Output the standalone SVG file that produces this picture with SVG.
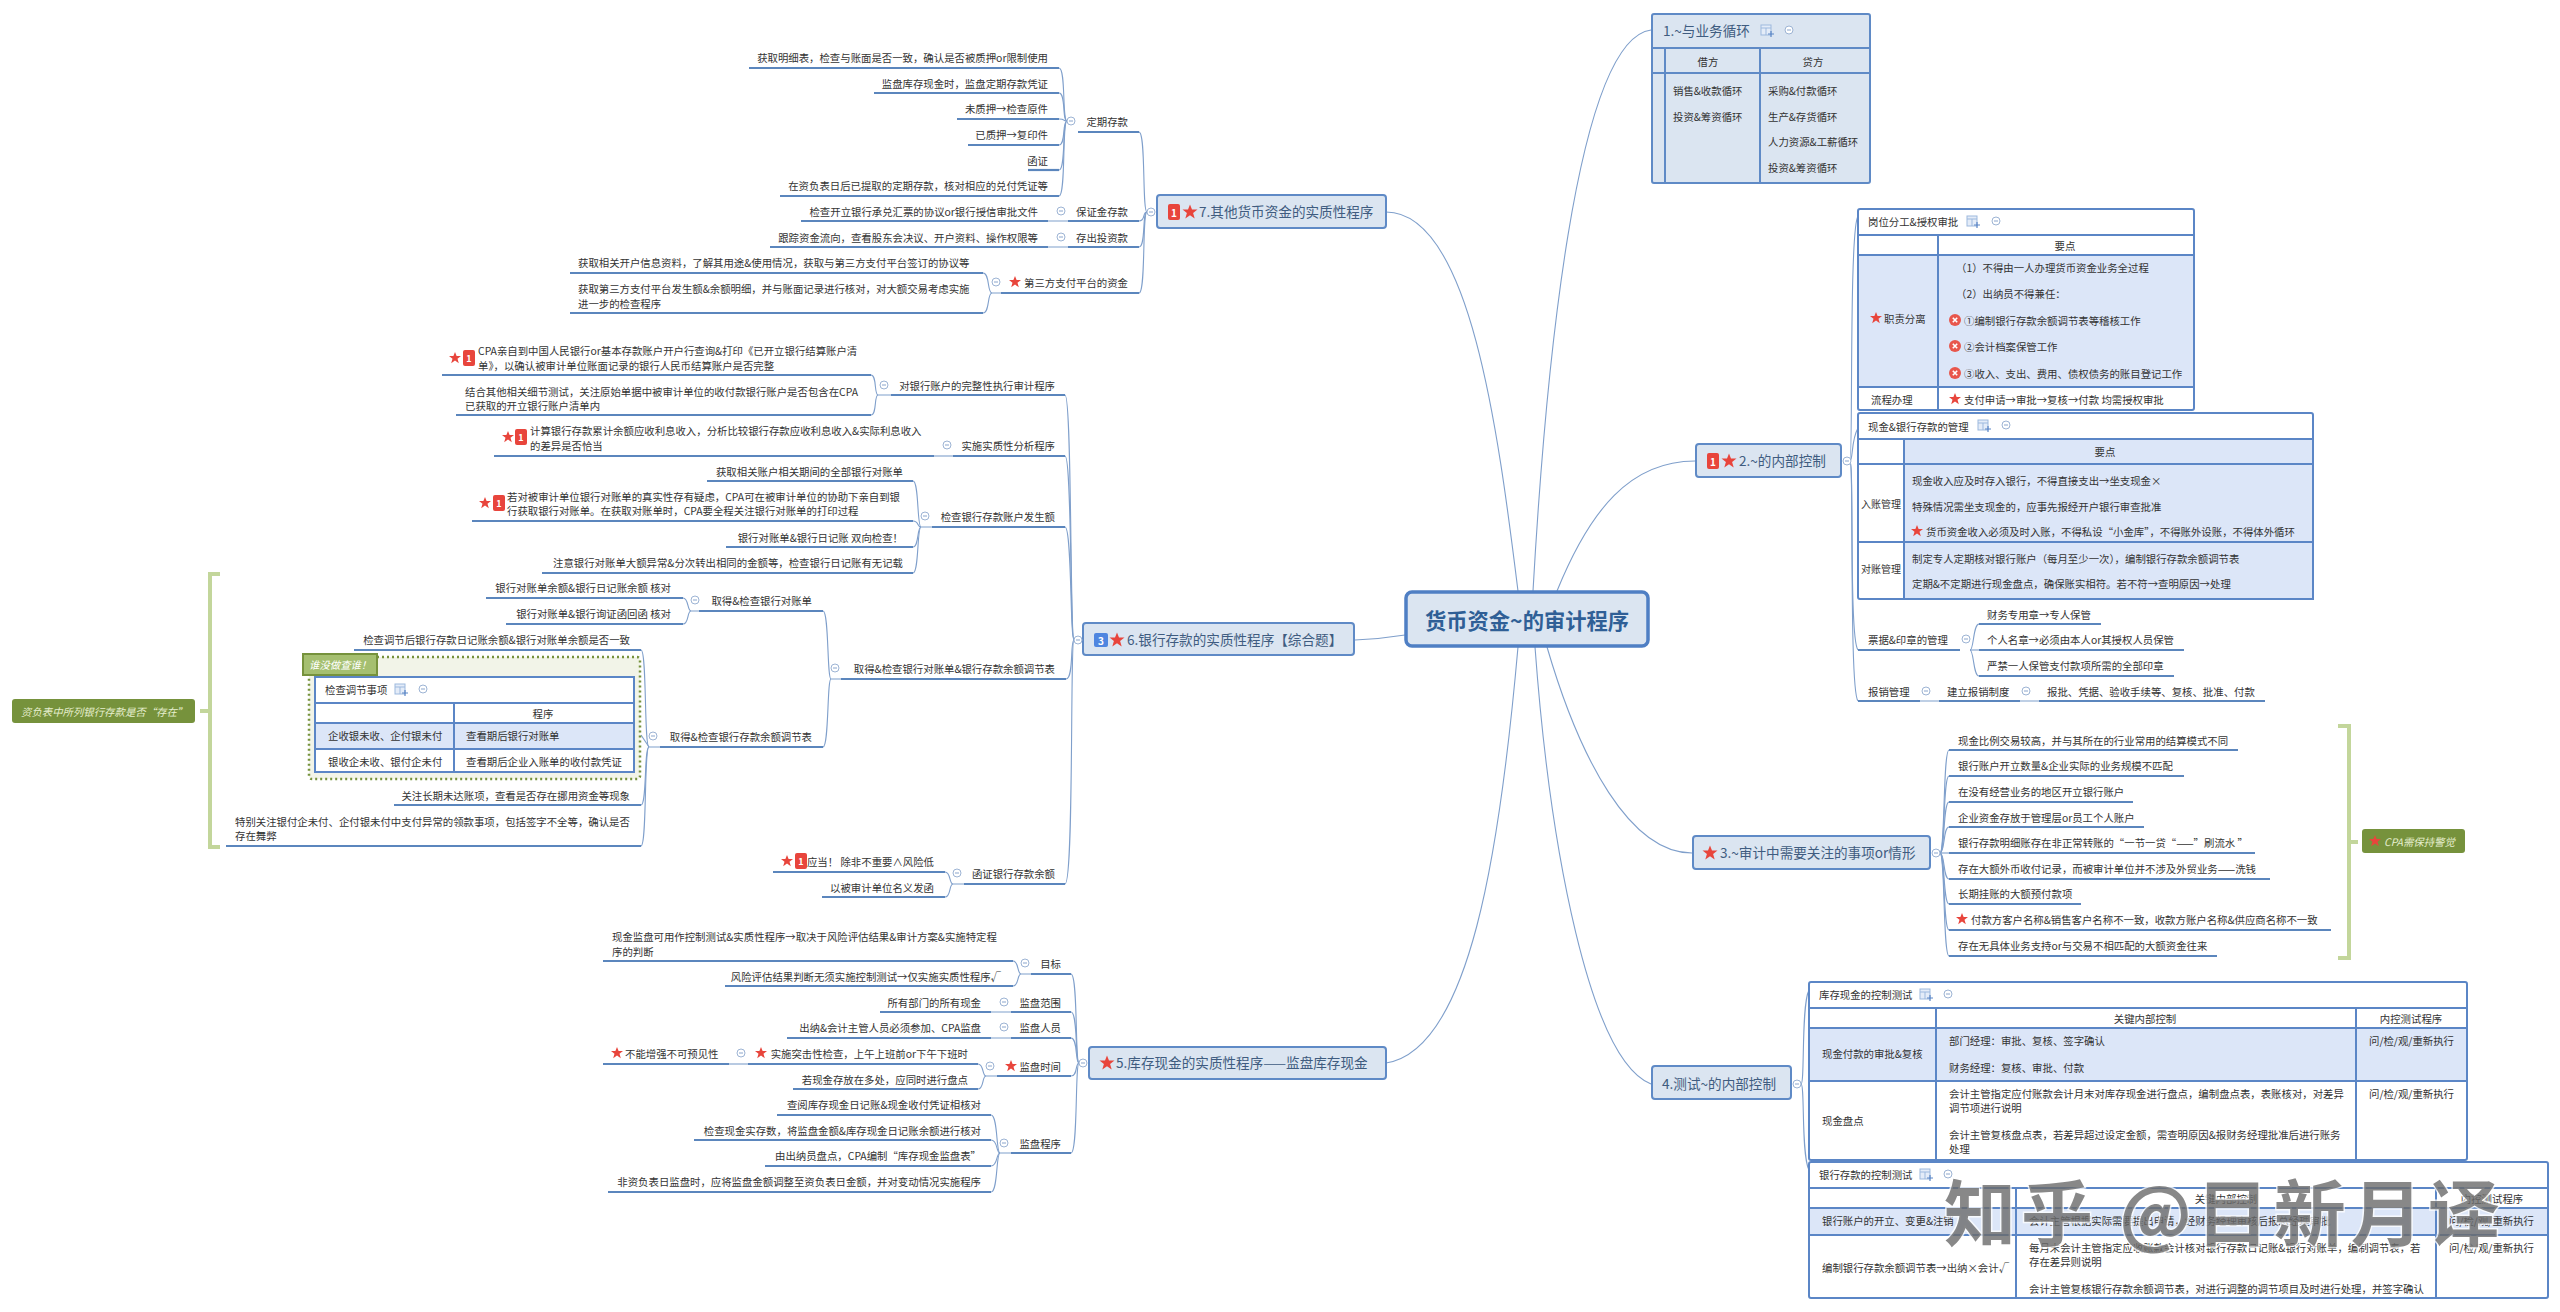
<svg xmlns="http://www.w3.org/2000/svg" xmlns:xlink="http://www.w3.org/1999/xlink" width="2560" height="1312" viewBox="0 0 2560 1312">
<style>
text{font-family:"Noto Sans CJK SC","Liberation Sans",sans-serif;dominant-baseline:central}
.l{font-size:10.4px;fill:#333}
.e{text-anchor:end}
.m{text-anchor:middle}
.t{font-size:13.6px;fill:#3f5c80}
.u{stroke:#5b86bd;stroke-width:2.2;fill:none}
.c{fill:none;stroke:#7f9fcb;stroke-width:1.1}
.n{fill:#dbe5f1;stroke:#5f8ac6;stroke-width:2}
.b{fill:#fff;stroke:#5b86c6;stroke-width:2}
.f{fill:#dce6f8;stroke:#5b86c6;stroke-width:2}
.g{fill:none;stroke:#c3d69b;stroke-width:4}
.i{font-style:italic;font-size:10.4px;fill:#e6efcf}
</style>
<defs>
<polygon id="s" points="0,-6 1.6,-1.9 6,-1.9 2.5,0.8 3.8,5.2 0,2.6 -3.8,5.2 -2.5,0.8 -6,-1.9 -1.6,-1.9" fill="#e8453c"/>
<polygon id="S" points="0,-7.5 2,-2.4 7.5,-2.4 3.1,1 4.7,6.5 0,3.3 -4.7,6.5 -3.1,1 -7.5,-2.4 -2,-2.4" fill="#e8453c"/>
<g id="o"><circle r="4" fill="#fff" stroke="#9db4d4" stroke-width="1"/><path d="M-2 0H2" stroke="#8aa5cc" stroke-width="1"/></g>
<g id="k"><rect width="10" height="10" fill="#e4ecf8" stroke="#9db9de" stroke-width="1"/><path d="M0 3H10M5 3V10" stroke="#9db9de" stroke-width="1"/><path d="M7 9H13M10 6V12" stroke="#5b86c6" stroke-width="1.2"/></g>
<g id="x"><circle r="6" fill="#e8564c"/><path d="M-2.2 -2.2L2.2 2.2M2.2 -2.2L-2.2 2.2" stroke="#fff" stroke-width="1.6"/></g>
<rect id="d" x="-6" y="-8" width="12" height="16" rx="2" fill="#e8453c"/>
</defs>
<rect width="2560" height="1312" fill="#fff"/>

<g id="connectors">
<path class="c" d="M1533 591C1545 380 1575 40 1651 30"/>
<path class="c" d="M1518 591C1498 430 1470 212 1386 212"/>
<path class="c" d="M1557 591C1590 510 1630 461 1695 461"/>
<path class="c" d="M1405 635Q1380 639 1355 640"/>
<path class="c" d="M1547 647C1580 760 1630 853 1692 853"/>
<path class="c" d="M1535 647C1550 850 1590 1060 1651 1084"/>
<path class="c" d="M1518 647C1500 850 1470 1050 1386 1063"/>
<path class="c" d="M1850 461C1853 461 1849 230 1858 216"/>
<path class="c" d="M1850 461C1853 461 1851 440 1858 428"/>
<path class="c" d="M1850 461C1854 461 1849 640 1858 650"/>
<path class="c" d="M1850 461C1854 461 1849 690 1858 701"/>
<path class="c" d="M1920 701H1939M2020 701H2039"/>
<path class="c" d="M1970 650C1974 650 1973 624 1979 624"/>
<path class="c" d="M1970 650H1979"/>
<path class="c" d="M1970 650C1974 650 1973 676 1979 676"/>
<path class="c" d="M1940 853C1945 853 1943 750 1949 750"/>
<path class="c" d="M1940 853C1945 853 1943 776 1949 776"/>
<path class="c" d="M1940 853C1945 853 1943 802 1949 802"/>
<path class="c" d="M1940 853C1945 853 1943 827 1949 827"/>
<path class="c" d="M1940 853H1949"/>
<path class="c" d="M1940 853C1945 853 1943 879 1949 879"/>
<path class="c" d="M1940 853C1945 853 1943 904 1949 904"/>
<path class="c" d="M1940 853C1945 853 1943 930 1949 930"/>
<path class="c" d="M1940 853C1945 853 1943 956 1949 956"/>
<path class="c" d="M1801 1084C1805 1084 1801 1005 1809 990"/>
<path class="c" d="M1801 1084C1805 1084 1801 1155 1809 1170"/>
<path class="c" d="M1147 212C1142 212 1146 132 1139 132"/>
<path class="c" d="M1147 212C1142 212 1146 221 1139 221"/>
<path class="c" d="M1147 212C1142 212 1146 247 1139 247"/>
<path class="c" d="M1147 212C1142 212 1146 293 1139 293"/>
<path class="c" d="M1067 121C1062 121 1066 68 1059 68"/>
<path class="c" d="M1067 121C1062 121 1066 93 1059 93"/>
<path class="c" d="M1067 121C1062 121 1066 119 1059 119"/>
<path class="c" d="M1067 121C1062 121 1066 145 1059 145"/>
<path class="c" d="M1067 121C1062 121 1066 170 1059 170"/>
<path class="c" d="M1067 121C1062 121 1066 196 1059 196"/>
<path class="c" d="M1048 221H1068M1048 247H1068"/>
<path class="c" d="M1001 293H992C987 293 990 273 983 273"/>
<path class="c" d="M992 293C987 293 990 313 983 313"/>
<path class="c" d="M1074 640C1070 640 1072 395 1065 395"/>
<path class="c" d="M1074 640C1070 640 1072 456 1065 456"/>
<path class="c" d="M1074 640C1070 640 1072 527 1065 527"/>
<path class="c" d="M1074 640C1070 640 1074 679 1066 679"/>
<path class="c" d="M1074 640C1070 640 1074 884 1065 884"/>
<path class="c" d="M891 395H878C874 395 877 375 871 375"/>
<path class="c" d="M878 395C874 395 877 415 871 415"/>
<path class="c" d="M934 456H953"/>
<path class="c" d="M932 527H921C917 527 919 481 913 481"/>
<path class="c" d="M921 527C917 527 919 521 913 521"/>
<path class="c" d="M921 527C917 527 919 547 913 547"/>
<path class="c" d="M921 527C917 527 919 573 913 573"/>
<path class="c" d="M841 679H831C827 679 829 611 823 611"/>
<path class="c" d="M831 679C827 679 829 747 823 747"/>
<path class="c" d="M699 611H691C687 611 689 598 683 598"/>
<path class="c" d="M691 611C687 611 689 624 683 624"/>
<path class="c" d="M660 747H649C644 747 647 650 641 650"/>
<path class="c" d="M649 747L641 735"/>
<path class="c" d="M649 747C644 747 647 805 641 805"/>
<path class="c" d="M649 747C644 747 647 846 641 846"/>
<path class="c" d="M964 884H953C949 884 951 872 945 872"/>
<path class="c" d="M953 884C949 884 951 897 945 897"/>
<path class="c" d="M1079 1063C1075 1063 1078 974 1071 974"/>
<path class="c" d="M1079 1063C1075 1063 1078 1012 1071 1012"/>
<path class="c" d="M1079 1063C1075 1063 1078 1038 1071 1038"/>
<path class="c" d="M1079 1063C1075 1063 1078 1076 1071 1076"/>
<path class="c" d="M1079 1063C1075 1063 1078 1153 1071 1153"/>
<path class="c" d="M1031 974H1021C1017 974 1019 961 1013 961"/>
<path class="c" d="M1021 974C1017 974 1019 986 1013 986"/>
<path class="c" d="M991 1012H1011M991 1038H1011"/>
<path class="c" d="M997 1076H986C982 1076 984 1064 978 1064"/>
<path class="c" d="M986 1076C982 1076 984 1089 978 1089"/>
<path class="c" d="M729 1064H748"/>
<path class="c" d="M1011 1153H1000C996 1153 998 1115 991 1115"/>
<path class="c" d="M1000 1153C996 1153 998 1140 991 1140"/>
<path class="c" d="M1000 1153C996 1153 998 1166 991 1166"/>
<path class="c" d="M1000 1153C996 1153 998 1192 991 1192"/>
</g>

<g id="root">
<rect x="1406" y="592" width="242" height="54" rx="6" fill="#dbe5f1" stroke="#4f7fc4" stroke-width="3.5"/>
<text x="1527" y="619" class="m" style="font-size:21.3px;font-weight:700;fill:#2f5f96">货币资金~的审计程序</text>
</g>

<g id="node1">
<rect class="n" x="1652" y="14" width="218" height="169" rx="2"/>
<path class="n" d="M1652 48H1870M1652 73H1870M1665 48V183M1760 48V183"/>
<text class="t" x="1663" y="30">1.~与业务循环</text>
<use href="#k" x="1761" y="25"/><use href="#o" x="1789" y="30"/>
<text class="l m" x="1708" y="61">借方</text><text class="l m" x="1813" y="61">贷方</text>
<text class="l" x="1673" y="90">销售&amp;收款循环</text>
<text class="l" x="1673" y="116">投资&amp;筹资循环</text>
<text class="l" x="1768" y="90">采购&amp;付款循环</text>
<text class="l" x="1768" y="116">生产&amp;存货循环</text>
<text class="l" x="1768" y="141">人力资源&amp;工薪循环</text>
<text class="l" x="1768" y="167">投资&amp;筹资循环</text>
</g>

<g id="node2">
<rect class="n" x="1696" y="444" width="145" height="33" rx="3"/>
<use href="#d" x="1713" y="461"/><text x="1713" y="461" class="m" style="font-size:10px;font-weight:700;fill:#fff">1</text>
<use href="#S" x="1729" y="461"/>
<text class="t" x="1739" y="460">2.~的内部控制</text>
<use href="#o" x="1847" y="461"/>
</g>

<g id="table-duties">
<rect class="b" x="1858" y="209" width="336" height="201" rx="2"/>
<rect class="f" x="1858" y="255" width="336" height="132"/>
<path class="b" d="M1858 235H2194M1938 235V410"/>
<text class="l" x="1868" y="221">岗位分工&amp;授权审批</text>
<use href="#k" x="1967" y="216"/><use href="#o" x="1996" y="221"/>
<text class="l m" x="2065" y="245">要点</text>
<use href="#s" x="1876" y="318"/><text class="l" x="1884" y="318">职责分离</text>
<text class="l" x="1956" y="267">（1）不得由一人办理货币资金业务全过程</text>
<text class="l" x="1956" y="293">（2）出纳员不得兼任：</text>
<use href="#x" x="1955" y="320"/><text class="l" x="1964" y="320">①编制银行存款余额调节表等稽核工作</text>
<use href="#x" x="1955" y="346"/><text class="l" x="1964" y="346">②会计档案保管工作</text>
<use href="#x" x="1955" y="373"/><text class="l" x="1964" y="373">③收入、支出、费用、债权债务的账目登记工作</text>
<text class="l" x="1871" y="399">流程办理</text>
<use href="#s" x="1955" y="399"/><text class="l" x="1964" y="399">支付申请→审批→复核→付款  均需授权审批</text>
</g>

<g id="table-cash">
<rect class="b" x="1858" y="413" width="455" height="186" rx="2"/>
<rect class="f" x="1904" y="439" width="409" height="160"/>
<path class="b" d="M1858 439H2313M1858 464H2313M1858 542H2313M1904 439V599"/>
<text class="l" x="1868" y="426">现金&amp;银行存款的管理</text>
<use href="#k" x="1978" y="420"/><use href="#o" x="2006" y="425"/>
<text class="l m" x="2105" y="451">要点</text>
<text class="l" x="1861" y="503" style="font-size:10px">入账管理</text>
<text class="l" x="1912" y="480">现金收入应及时存入银行，不得直接支出→坐支现金×</text>
<text class="l" x="1912" y="506">特殊情况需坐支现金的，应事先报经开户银行审查批准</text>
<use href="#s" x="1917" y="531"/><text class="l" x="1926" y="531">货币资金收入必须及时入账，不得私设“小金库”，不得账外设账，不得体外循环</text>
<text class="l" x="1861" y="568" style="font-size:10px">对账管理</text>
<text class="l" x="1912" y="558">制定专人定期核对银行账户（每月至少一次），编制银行存款余额调节表</text>
<text class="l" x="1912" y="583">定期&amp;不定期进行现金盘点，确保账实相符。若不符→查明原因→处理</text>
</g>

<g id="node-seals">
<text class="l" x="1868" y="639">票据&amp;印章的管理</text><path class="u" d="M1858 650H1960"/><use href="#o" x="1966" y="639"/>
<text class="l" x="1987" y="614">财务专用章→专人保管</text><path class="u" d="M1979 624H2101"/>
<text class="l" x="1987" y="639">个人名章→必须由本人or其授权人员保管</text><path class="u" d="M1979 650H2184"/>
<text class="l" x="1987" y="665">严禁一人保管支付款项所需的全部印章</text><path class="u" d="M1979 676H2174"/>
</g>
<g id="node-expense">
<text class="l" x="1868" y="691">报销管理</text><path class="u" d="M1858 701H1920"/><use href="#o" x="1926" y="691"/>
<text class="l" x="1947" y="691">建立报销制度</text><path class="u" d="M1939 701H2020"/><use href="#o" x="2026" y="691"/>
<text class="l" x="2047" y="691">报批、凭据、验收手续等、复核、批准、付款</text><path class="u" d="M2039 701H2265"/>
</g>

<g id="node3">
<rect class="n" x="1693" y="836" width="237" height="33" rx="3"/>
<use href="#S" x="1710" y="853"/><text class="t" x="1720" y="852">3.~审计中需要关注的事项or情形</text>
<use href="#o" x="1936" y="853"/>
</g>
<g id="node3-leaves">
<text class="l" x="1958" y="740">现金比例交易较高，并与其所在的行业常用的结算模式不同</text><path class="u" d="M1949 750H2238"/>
<text class="l" x="1958" y="765">银行账户开立数量&amp;企业实际的业务规模不匹配</text><path class="u" d="M1949 776H2184"/>
<text class="l" x="1958" y="791">在没有经营业务的地区开立银行账户</text><path class="u" d="M1949 802H2133"/>
<text class="l" x="1958" y="817">企业资金存放于管理层or员工个人账户</text><path class="u" d="M1949 827H2144"/>
<text class="l" x="1958" y="842">银行存款明细账存在非正常转账的“一节一贷“——”刷流水 ”</text><path class="u" d="M1949 853H2255"/>
<text class="l" x="1958" y="868">存在大额外币收付记录，而被审计单位并不涉及外贸业务——洗钱</text><path class="u" d="M1949 879H2270"/>
<text class="l" x="1958" y="893">长期挂账的大额预付款项</text><path class="u" d="M1949 904H2081"/>
<use href="#s" x="1962" y="919"/><text class="l" x="1971" y="919">付款方客户名称&amp;销售客户名称不一致，收款方账户名称&amp;供应商名称不一致</text><path class="u" d="M1949 930H2331"/>
<text class="l" x="1958" y="945">存在无具体业务支持or与交易不相匹配的大额资金往来</text><path class="u" d="M1949 956H2217"/>
</g>
<g id="summary-cpa">
<path class="g" d="M2338 726H2349V958H2338M2349 842H2358"/>
<rect x="2362" y="829" width="103" height="24" rx="3" fill="#76923c"/>
<use href="#s" x="2375" y="841"/><text class="i" x="2384" y="841">CPA需保持警觉</text>
</g>

<g id="node4">
<rect class="n" x="1652" y="1066" width="139" height="33" rx="3"/>
<text class="t" x="1662" y="1083">4.测试~的内部控制</text>
<use href="#o" x="1797" y="1084"/>
</g>
<g id="table-cash-test">
<rect class="b" x="1809" y="982" width="658" height="178" rx="2"/>
<rect class="f" x="1809" y="1028" width="658" height="53"/>
<path class="b" d="M1809 1008H2467M1936 1008V1160M2356 1008V1160"/>
<text class="l" x="1819" y="994">库存现金的控制测试</text>
<use href="#k" x="1920" y="989"/><use href="#o" x="1948" y="994"/>
<text class="l m" x="2145" y="1018">关键内部控制</text><text class="l m" x="2411" y="1018">内控测试程序</text>
<text class="l" x="1822" y="1053">现金付款的审批&amp;复核</text>
<text class="l" x="1949" y="1040">部门经理：审批、复核、签字确认</text>
<text class="l" x="1949" y="1067">财务经理：复核、审批、付款</text>
<text class="l" x="2369" y="1040">问/检/观/重新执行</text>
<text class="l" x="1822" y="1120">现金盘点</text>
<text class="l" x="1949" y="1093">会计主管指定应付账款会计月末对库存现金进行盘点，编制盘点表，表账核对，对差异</text>
<text class="l" x="1949" y="1107">调节项进行说明</text>
<text class="l" x="1949" y="1134">会计主管复核盘点表，若差异超过设定金额，需查明原因&amp;报财务经理批准后进行账务</text>
<text class="l" x="1949" y="1148">处理</text>
<text class="l" x="2369" y="1093">问/检/观/重新执行</text>
</g>
<g id="table-bank-test">
<rect class="b" x="1809" y="1162" width="739" height="136" rx="2"/>
<rect class="f" x="1809" y="1208" width="739" height="27"/>
<path class="b" d="M1809 1188H2548M2016 1188V1298M2436 1188V1298"/>
<text class="l" x="1819" y="1174">银行存款的控制测试</text>
<use href="#k" x="1920" y="1169"/><use href="#o" x="1948" y="1174"/>
<text class="l m" x="2226" y="1198">关键内部控制</text><text class="l m" x="2492" y="1198">内控测试程序</text>
<text class="l" x="1822" y="1220">银行账户的开立、变更&amp;注销</text>
<text class="l" x="2029" y="1220">会计主管根据实际需要提出申请，经财务经理审核后报总经理审批</text>
<text class="l" x="2449" y="1220">问/检/观/重新执行</text>
<text class="l" x="1822" y="1267">编制银行存款余额调节表→出纳×会计√</text>
<text class="l" x="2029" y="1247">每月末会计主管指定应收账款会计核对银行存款日记账&amp;银行对账单，编制调节表，若</text>
<text class="l" x="2029" y="1261">存在差异则说明</text>
<text class="l" x="2029" y="1288">会计主管复核银行存款余额调节表，对进行调整的调节项目及时进行处理，并签字确认</text>
<text class="l" x="2449" y="1247">问/检/观/重新执行</text>
</g>

<g id="node7">
<rect class="n" x="1157" y="195" width="229" height="33" rx="3"/>
<use href="#d" x="1174" y="212"/><text x="1174" y="212" class="m" style="font-size:10px;font-weight:700;fill:#fff">1</text>
<use href="#S" x="1190" y="212"/><text class="t" x="1199" y="211">7.其他货币资金的实质性程序</text>
<use href="#o" x="1151" y="212"/>
</g>
<g id="node7-fixed">
<text class="l e" x="1128" y="121">定期存款</text><path class="u" d="M1078 132H1139"/><use href="#o" x="1071" y="121"/>
<text class="l e" x="1048" y="57">获取明细表，检查与账面是否一致，确认是否被质押or限制使用</text><path class="u" d="M749 68H1059"/>
<text class="l e" x="1048" y="83">监盘库存现金时，监盘定期存款凭证</text><path class="u" d="M874 93H1059"/>
<text class="l e" x="1048" y="108">未质押→检查原件</text><path class="u" d="M957 119H1059"/>
<text class="l e" x="1048" y="134">已质押→复印件</text><path class="u" d="M968 145H1059"/>
<text class="l e" x="1048" y="160">函证</text><path class="u" d="M1028 170H1059"/>
<text class="l e" x="1048" y="185">在资负表日后已提取的定期存款，核对相应的兑付凭证等</text><path class="u" d="M780 196H1059"/>
</g>
<g id="node7-deposit">
<text class="l e" x="1128" y="211">保证金存款</text><path class="u" d="M1068 221H1139"/><use href="#o" x="1061" y="211"/>
<text class="l e" x="1038" y="211">检查开立银行承兑汇票的协议or银行授信审批文件</text><path class="u" d="M801 221H1048"/>
</g>
<g id="node7-invest">
<text class="l e" x="1128" y="237">存出投资款</text><path class="u" d="M1068 247H1139"/><use href="#o" x="1061" y="237"/>
<text class="l e" x="1038" y="237">跟踪资金流向，查看股东会决议、开户资料、操作权限等</text><path class="u" d="M770 247H1048"/>
</g>
<g id="node7-third">
<use href="#s" x="1015" y="282"/><text class="l e" x="1128" y="282">第三方支付平台的资金</text><path class="u" d="M1001 293H1139"/><use href="#o" x="996" y="282"/>
<text class="l" x="578" y="262">获取相关开户信息资料，了解其用途&amp;使用情况，获取与第三方支付平台签订的协议等</text><path class="u" d="M570 273H983"/>
<text class="l" x="578" y="288">获取第三方支付平台发生额&amp;余额明细，并与账面记录进行核对，对大额交易考虑实施</text>
<text class="l" x="578" y="303">进一步的检查程序</text><path class="u" d="M570 313H983"/>
</g>

<g id="node6">
<rect class="n" x="1083" y="623" width="271" height="32" rx="3"/>
<rect x="1094" y="633" width="14" height="14" rx="2" fill="#4f86e0"/><text x="1101" y="640" class="m" style="font-size:10px;font-weight:700;fill:#fff">3</text>
<use href="#S" x="1117" y="640"/><text class="t" x="1127" y="639">6.银行存款的实质性程序【综合题】</text>
<use href="#o" x="1078" y="640"/>
</g>
<g id="node6-complete">
<text class="l e" x="1055" y="385">对银行账户的完整性执行审计程序</text><path class="u" d="M891 395H1065"/><use href="#o" x="884" y="385"/>
<use href="#s" x="455" y="358"/><use href="#d" x="469" y="358"/><text x="469" y="358" class="m" style="font-size:9px;font-weight:700;fill:#fff">1</text>
<text class="l" x="478" y="350">CPA亲自到中国人民银行or基本存款账户开户行查询&amp;打印《已开立银行结算账户清</text>
<text class="l" x="478" y="365">单》，以确认被审计单位账面记录的银行人民币结算账户是否完整</text><path class="u" d="M442 375H871"/>
<text class="l" x="465" y="391">结合其他相关细节测试，关注原始单据中被审计单位的收付款银行账户是否包含在CPA</text>
<text class="l" x="465" y="405">已获取的开立银行账户清单内</text><path class="u" d="M456 415H871"/>
</g>
<g id="node6-analysis">
<text class="l e" x="1055" y="445">实施实质性分析程序</text><path class="u" d="M953 456H1065"/><use href="#o" x="947" y="445"/>
<use href="#s" x="508" y="437"/><use href="#d" x="521" y="437"/><text x="521" y="437" class="m" style="font-size:9px;font-weight:700;fill:#fff">1</text>
<text class="l" x="530" y="430">计算银行存款累计余额应收利息收入，分析比较银行存款应收利息收入&amp;实际利息收入</text>
<text class="l" x="530" y="445">的差异是否恰当</text><path class="u" d="M494 456H934"/>
</g>
<g id="node6-check">
<text class="l e" x="1055" y="516">检查银行存款账户发生额</text><path class="u" d="M932 527H1065"/><use href="#o" x="925" y="516"/>
<text class="l e" x="903" y="471">获取相关账户相关期间的全部银行对账单</text><path class="u" d="M707 481H913"/>
<use href="#s" x="485" y="503"/><use href="#d" x="499" y="503"/><text x="499" y="503" class="m" style="font-size:9px;font-weight:700;fill:#fff">1</text>
<text class="l" x="507" y="496">若对被审计单位银行对账单的真实性存有疑虑，CPA可在被审计单位的协助下亲自到银</text>
<text class="l" x="507" y="510">行获取银行对账单。在获取对账单时，CPA要全程关注银行对账单的打印过程</text><path class="u" d="M472 521H913"/>
<text class="l e" x="903" y="537">银行对账单&amp;银行日记账 双向检查！</text><path class="u" d="M726 547H913"/>
<text class="l e" x="903" y="562">注意银行对账单大额异常&amp;分次转出相同的金额等，检查银行日记账有无记载</text><path class="u" d="M542 573H913"/>
</g>
<g id="node6-obtain">
<text class="l e" x="1055" y="668">取得&amp;检查银行对账单&amp;银行存款余额调节表</text><path class="u" d="M841 679H1066"/><use href="#o" x="835" y="668"/>
<text class="l e" x="812" y="600">取得&amp;检查银行对账单</text><path class="u" d="M699 611H823"/><use href="#o" x="695" y="600"/>
<text class="l e" x="671" y="587">银行对账单余额&amp;银行日记账余额 核对</text><path class="u" d="M486 598H683"/>
<text class="l e" x="671" y="613">银行对账单&amp;银行询证函回函 核对</text><path class="u" d="M506 624H683"/>
<text class="l e" x="812" y="736">取得&amp;检查银行存款余额调节表</text><path class="u" d="M660 747H823"/><use href="#o" x="653" y="736"/>
<text class="l e" x="630" y="639">检查调节后银行存款日记账余额&amp;银行对账单余额是否一致</text><path class="u" d="M354 650H641"/>
<text class="l e" x="630" y="795">关注长期未达账项，查看是否存在挪用资金等现象</text><path class="u" d="M394 805H641"/>
<text class="l" x="235" y="821">特别关注银付企未付、企付银未付中支付异常的领款事项，包括签字不全等，确认是否</text>
<text class="l" x="235" y="835">存在舞弊</text><path class="u" d="M226 846H641"/>
</g>
<g id="boundary">
<rect x="309" y="657" width="331" height="122" rx="3" fill="#f2f4e8" stroke="#76923c" stroke-width="2.5" stroke-dasharray="2 3"/>
<rect x="303" y="654" width="74" height="21" fill="#a5bf70" stroke="#76923c" stroke-width="2"/>
<text class="i" x="309" y="664" style="fill:#fff">谁没做查谁！</text>
</g>
<g id="table-reconcile">
<rect class="b" x="315" y="677" width="319" height="95"/>
<rect class="f" x="315" y="723" width="319" height="26"/>
<path class="b" d="M315 703H634M454 703V772"/>
<text class="l" x="325" y="689">检查调节事项</text>
<use href="#k" x="395" y="684"/><use href="#o" x="423" y="689"/>
<text class="l m" x="543" y="713">程序</text>
<text class="l" x="328" y="735">企收银未收、企付银未付</text><text class="l" x="466" y="735">查看期后银行对账单</text>
<text class="l" x="328" y="761">银收企未收、银付企未付</text><text class="l" x="466" y="761">查看期后企业入账单的收付款凭证</text>
</g>
<g id="summary-exist">
<path class="g" d="M220 574H210V847H220M210 711H200"/>
<rect x="12" y="699" width="183" height="24" rx="3" fill="#76923c"/>
<text class="i" x="21" y="711">资负表中所列银行存款是否“存在”</text>
</g>
<g id="node6-confirm">
<text class="l e" x="1055" y="873">函证银行存款余额</text><path class="u" d="M964 884H1065"/><use href="#o" x="957" y="873"/>
<use href="#s" x="787" y="861"/><use href="#d" x="801" y="861"/><text x="801" y="861" class="m" style="font-size:9px;font-weight:700;fill:#fff">1</text>
<text class="l e" x="934" y="861">应当！ 除非不重要∧风险低</text><path class="u" d="M773 872H945"/>
<text class="l e" x="934" y="887">以被审计单位名义发函</text><path class="u" d="M822 897H945"/>
</g>

<g id="node5">
<rect class="n" x="1089" y="1047" width="297" height="32" rx="3"/>
<use href="#S" x="1107" y="1063"/><text class="t" x="1116" y="1062">5.库存现金的实质性程序——监盘库存现金</text>
<use href="#o" x="1083" y="1063"/>
</g>
<g id="node5-goal">
<text class="l e" x="1061" y="963">目标</text><path class="u" d="M1031 974H1071"/><use href="#o" x="1025" y="963"/>
<text class="l" x="612" y="936">现金监盘可用作控制测试&amp;实质性程序→取决于风险评估结果&amp;审计方案&amp;实施特定程</text>
<text class="l" x="612" y="951">序的判断</text><path class="u" d="M603 961H1013"/>
<text class="l e" x="1001" y="976">风险评估结果判断无须实施控制测试→仅实施实质性程序√</text><path class="u" d="M725 986H1013"/>
</g>
<g id="node5-scope">
<text class="l e" x="1061" y="1002">监盘范围</text><path class="u" d="M1011 1012H1071"/><use href="#o" x="1004" y="1002"/>
<text class="l e" x="981" y="1002">所有部门的所有现金</text><path class="u" d="M880 1012H991"/>
</g>
<g id="node5-staff">
<text class="l e" x="1061" y="1027">监盘人员</text><path class="u" d="M1011 1038H1071"/><use href="#o" x="1004" y="1027"/>
<text class="l e" x="981" y="1027">出纳&amp;会计主管人员必须参加、CPA监盘</text><path class="u" d="M787 1038H991"/>
</g>
<g id="node5-time">
<use href="#s" x="1011" y="1066"/><text class="l e" x="1061" y="1066">监盘时间</text><path class="u" d="M997 1076H1071"/><use href="#o" x="990" y="1066"/>
<use href="#s" x="761" y="1053"/><text class="l e" x="968" y="1053">实施突击性检查，上午上班前or下午下班时</text><path class="u" d="M748 1064H978"/><use href="#o" x="741" y="1053"/>
<use href="#s" x="617" y="1053"/><text class="l" x="625" y="1053">不能增强不可预见性</text><path class="u" d="M603 1064H729"/>
<text class="l e" x="968" y="1079">若现金存放在多处，应同时进行盘点</text><path class="u" d="M793 1089H978"/>
</g>
<g id="node5-proc">
<text class="l e" x="1061" y="1143">监盘程序</text><path class="u" d="M1011 1153H1071"/><use href="#o" x="1004" y="1143"/>
<text class="l e" x="981" y="1104">查阅库存现金日记账&amp;现金收付凭证相核对</text><path class="u" d="M777 1115H991"/>
<text class="l e" x="981" y="1130">检查现金实存数，将监盘金额&amp;库存现金日记账余额进行核对</text><path class="u" d="M694 1140H991"/>
<text class="l e" x="981" y="1155">由出纳员盘点，CPA编制“库存现金监盘表”</text><path class="u" d="M765 1166H991"/>
<text class="l e" x="981" y="1181">非资负表日监盘时，应将监盘金额调整至资负表日金额，并对变动情况实施程序</text><path class="u" d="M608 1192H991"/>
</g>

<g id="watermark">
<text x="1944" y="1208" style="font-size:72px;font-weight:700;letter-spacing:5px;fill:#6a6a6a;fill-opacity:.8;stroke:#fff;stroke-width:3;stroke-opacity:.75;paint-order:stroke">知乎 @目新月译</text>
</g>
</svg>
